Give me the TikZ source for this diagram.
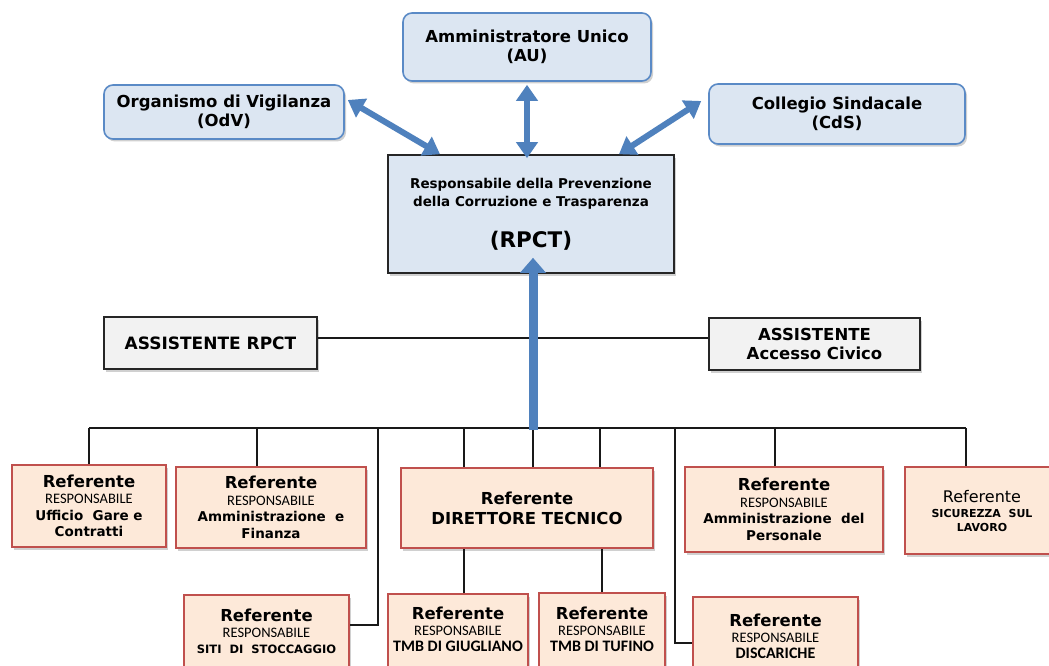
\documentclass[tikz,border=0pt]{standalone}
\usepackage{fontspec}
\setmainfont{DejaVu Sans}
\newfontfamily\carl{Carlito}
\usetikzlibrary{arrows.meta,shadows,calc}
\definecolor{topfill}{HTML}{DCE6F2}
\definecolor{topdraw}{HTML}{5A8AC6}
\definecolor{arrowc}{HTML}{4F81BD}
\definecolor{asstfill}{HTML}{F2F2F2}
\definecolor{reffill}{HTML}{FDE9D9}
\definecolor{refdraw}{HTML}{C0504D}
\newcommand\fs[1]{\fontsize{#1}{#1}\selectfont}
\newcommand\refB{{\fs{16.5}\bfseries Referente}}
\newcommand\respL{{\carl\mdseries\fs{14.5}RESPONSABILE}}
\tikzset{
 sh/.style={drop shadow={shadow xshift=2pt,shadow yshift=-2.5pt,opacity=0.3,fill=black!60}},
 topbox/.style={rectangle,rounded corners=9pt,fill=topfill,draw=topdraw,line width=1.6pt,align=center,inner sep=0pt,sh,font=\fontsize{16.5}{19}\selectfont\bfseries},
 rpctbox/.style={rectangle,fill=topfill,draw=black!85,line width=1.6pt,align=center,inner sep=0pt,sh,font=\fontsize{13.5}{18}\selectfont\bfseries},
 asstbox/.style={rectangle,fill=asstfill,draw=black!85,line width=1.6pt,align=center,inner sep=0pt,sh,font=\fontsize{16.5}{19}\selectfont\bfseries},
 refbox/.style={rectangle,fill=reffill,draw=refdraw,line width=2pt,align=center,inner sep=0pt,sh,font=\fontsize{13.5}{16.5}\selectfont\bfseries},
 txt/.style={align=center,inner sep=0pt,font=\fontsize{13.5}{16.5}\selectfont\bfseries},
 conn/.style={draw=black!90,line width=2pt},
 barrow/.style={draw=arrowc,line width=6pt,{Triangle[width=21pt,length=16pt]}-{Triangle[width=21pt,length=16pt]}},
 bigarrow/.style={draw=arrowc,line width=9pt,-{Triangle[width=25pt,length=15pt]}},
}
\begin{document}
\begin{tikzpicture}[x=1pt,y=-1pt]
\useasboundingbox (0,0) rectangle (1049,666);
\clip (0,0) rectangle (1049,666);
\fill[white] (0,0) rectangle (1049,666);

% top level
\node[topbox,minimum width=248pt,minimum height=68pt] (au) at (527,47) {Amministratore Unico\\(AU)};
\node[topbox,minimum width=240pt,minimum height=54pt] (odv) at (224,112) {Organismo di Vigilanza\\(OdV)};
\node[topbox,minimum width=256pt,minimum height=60pt] (cds) at (837,114) {Collegio Sindacale\\(CdS)};
\node[rpctbox,minimum width=286pt,minimum height=118pt] (rpct) at (531,214)
  {Responsabile della Prevenzione\\della Corruzione e Trasparenza\\[21pt]{\fs{21.5}(RPCT)}};

% assistants
\node[asstbox,minimum width=213pt,minimum height=52pt,font=\fontsize{17}{19}\selectfont\bfseries] (asstR) at (210.5,343) {ASSISTENTE RPCT};
\node[asstbox,minimum width=211pt,minimum height=52pt] (asstA) at (814.5,344) {ASSISTENTE\\Accesso Civico};

% first row of referents
\node[refbox,minimum width=154pt,minimum height=82pt] (gare) at (89,506)
  {\refB\\\respL\\Ufficio\ \ Gare e\\Contratti};
\node[refbox,minimum width=190pt,minimum height=81pt] (ammfin) at (271,507.5)
  {\refB\\\respL\\Amministrazione\ \ e\\Finanza};
\node[refbox,minimum width=252pt,minimum height=80pt,font=\fontsize{16.5}{20}\selectfont\bfseries] (dt) at (527,508)
  {Referente\\DIRETTORE TECNICO};
\node[refbox,minimum width=198pt,minimum height=85pt] (pers) at (784,509.5)
  {\refB\\\respL\\Amministrazione\ \ del\\Personale};
\node[refbox,minimum width=155pt,minimum height=87pt] (sic) at (982,510.5)
  {{\fs{16}\mdseries Referente}\\[-1pt]{\fs{11}SICUREZZA\ \ SUL}\\[-3pt]{\fs{11}LAVORO}};

% second row (cut at the bottom)
\node[refbox,minimum width=165pt,minimum height=110pt,anchor=north] (siti) at (266.5,594) {};
\node[txt] (sitiT) at (266.5,631) {\refB\\\respL\\[-1pt]{\fs{11.5}SITI\ \ DI\ \ STOCCAGGIO}};
\node[refbox,minimum width=140pt,minimum height=110pt,anchor=north] (giugl) at (458,593) {};
\node[txt] (giuglT) at (458,629) {\refB\\\respL\\[-1pt]{\carl\fs{16}\bfseries TMB DI GIUGLIANO}};
\node[refbox,minimum width=126pt,minimum height=110pt,anchor=north] (tuf) at (602,592) {};
\node[txt] (tufT) at (602,629) {\refB\\\respL\\[-1pt]{\carl\fs{16}\bfseries TMB DI TUFINO}};
\node[refbox,minimum width=165pt,minimum height=110pt,anchor=north] (disc) at (775.5,596) {};
\node[txt] (discT) at (775.5,636) {\refB\\\respL\\[-1pt]{\carl\fs{16}\bfseries DISCARICHE}};

% bus and drops
\coordinate (busL) at (89,428);
\coordinate (busR) at (966,428);
\coordinate (busM) at (533,428);
\coordinate (dSiti) at (378,428);
\coordinate (dDisc) at (675,428);
\path ($(ammfin.north)+(-14,0)$) coordinate (aTop);
\path ($(dt.north)+(-63,0)$) coordinate (dtA);
\path ($(dt.north)+(6,0)$) coordinate (dtB);
\path ($(dt.north)+(73,0)$) coordinate (dtC);
\path ($(pers.north)+(-9,0)$) coordinate (pTop);
\path ($(sic.north)+(-16,0)$) coordinate (sTop);
\path ($(giugl.north)+(6,0)$) coordinate (gTop);
\path ($(siti.east |- sitiT)+(0,-6)$) coordinate (sitiIn);
\path ($(disc.west |- discT)+(0,7)$) coordinate (discIn);

\draw[conn] ([yshift=5pt]asstR.east) -- ([yshift=5pt]asstR.east -| asstA.west);
\draw[conn] (busL) -- (busR);
\draw[conn] (busL) -- (gare.north);
\draw[conn] (aTop |- busL) -- (aTop);
\draw[conn] (dtA |- busL) -- (dtA);
\draw[conn] (busM) -- (dtB);
\draw[conn] (dtC |- busL) -- (dtC);
\draw[conn] (pTop |- busL) -- (pTop);
\draw[conn] (busR) -- (sTop);
\draw[conn] (dSiti) |- (sitiIn);
\draw[conn] (dDisc) |- (discIn);
\draw[conn] (gTop |- dt.south) -- (gTop);
\draw[conn] (tuf.north |- dt.south) -- (tuf.north);

% blue arrows
\draw[barrow] ($(odv.east)+(3,-12)$) -- ($(rpct.north)+(-91,0)$);
\draw[barrow] ($(au.south)+(0,3)$) -- ($(au.south |- rpct.north)+(0,4)$);
\draw[barrow] ($(cds.west)+(-7,-13)$) -- ($(rpct.north)+(88,0)$);
\draw[bigarrow] ($(busM)+(0,2)$) -- ($(busM |- rpct.south)+(0,-16)$);
\end{tikzpicture}
\end{document}
